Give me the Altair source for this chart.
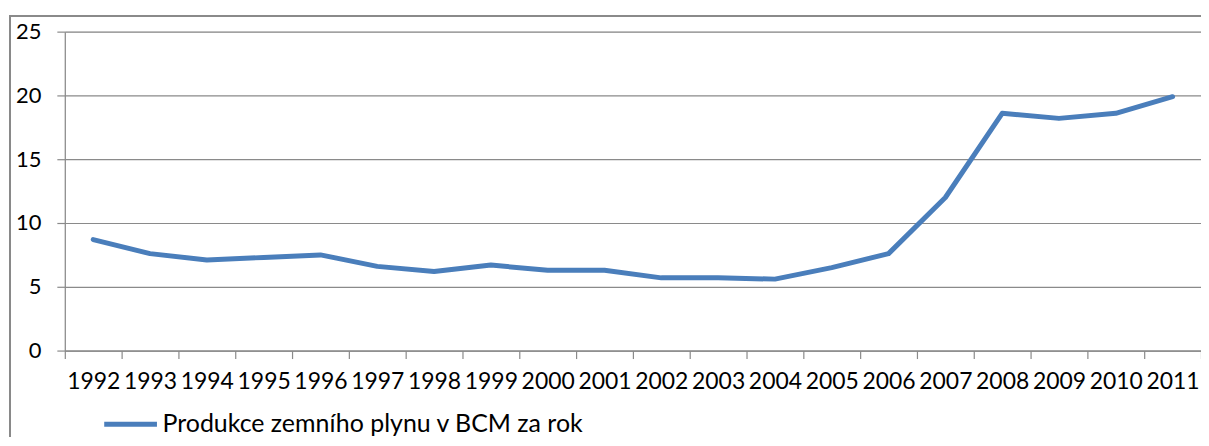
import altair as alt
import pandas as pd

years = [str(y) for y in range(1992, 2012)]
values = [8.7, 7.6, 7.1, 7.3, 7.5, 6.6, 6.2, 6.7, 6.3, 6.3,
          5.7, 5.7, 5.6, 6.5, 7.6, 12.0, 18.6, 18.2, 18.6, 19.9]
series_name = "Produkce zemního plynu v BCM za rok"

df = pd.DataFrame({"rok": years, "hodnota": values, "serie": [series_name] * len(years)})

FONT = "Lato"
GRID = "#8a8a8a"

line = alt.Chart(df).mark_line(strokeWidth=5, strokeCap="round", strokeJoin="round").encode(
    x=alt.X("rok:O", sort=years, title=None,
            scale=alt.Scale(paddingInner=0, paddingOuter=0),
            axis=alt.Axis(labelAngle=0, tickBand="extent", tickSize=8, tickColor=GRID,
                          domainColor=GRID, domainWidth=1.2, tickWidth=1.2,
                          labelFont=FONT, labelFontSize=23, labelColor="#000000",
                          labelPadding=12, grid=False)),
    y=alt.Y("hodnota:Q", title=None,
            scale=alt.Scale(domain=[0, 25], nice=False),
            axis=alt.Axis(values=[0, 5, 10, 15, 20, 25], tickSize=8, tickColor=GRID,
                          domainColor=GRID, domainWidth=1.2, tickWidth=1.2,
                          gridColor=GRID, gridWidth=1.2, gridOpacity=1,
                          labelFont=FONT, labelFontSize=22, labelColor="#000000",
                          labelPadding=16)),
    color=alt.Color("serie:N", title=None,
                    scale=alt.Scale(range=["#4a7ebb"]),
                    legend=alt.Legend(orient="none", legendX=37, legendY=365,
                                      symbolType="stroke", symbolSize=2800,
                                      symbolStrokeWidth=5, labelFont=FONT,
                                      labelFontSize=25, labelColor="#000000",
                                      labelOffset=3, labelLimit=0, padding=0)),
)

border_top = alt.Chart(df).mark_rule(color="#8a8a8a", strokeWidth=1.5).encode(
    x=alt.value(-55), x2=alt.value(1150), y=alt.value(-16))
border_left = alt.Chart(df).mark_rule(color="#8a8a8a", strokeWidth=1.5).encode(
    x=alt.value(-55), y=alt.value(-16), y2=alt.value(440))

chart = alt.layer(border_top, border_left, line).properties(
    width=1140, height=320,
    autosize=alt.AutoSizeParams(type="none"),
    padding={"left": 57, "top": 23, "right": 0, "bottom": 86},
).configure_view(strokeWidth=0).configure(background="white")

chart.save("out.html", embed_options={"renderer": "svg", "actions": False})
